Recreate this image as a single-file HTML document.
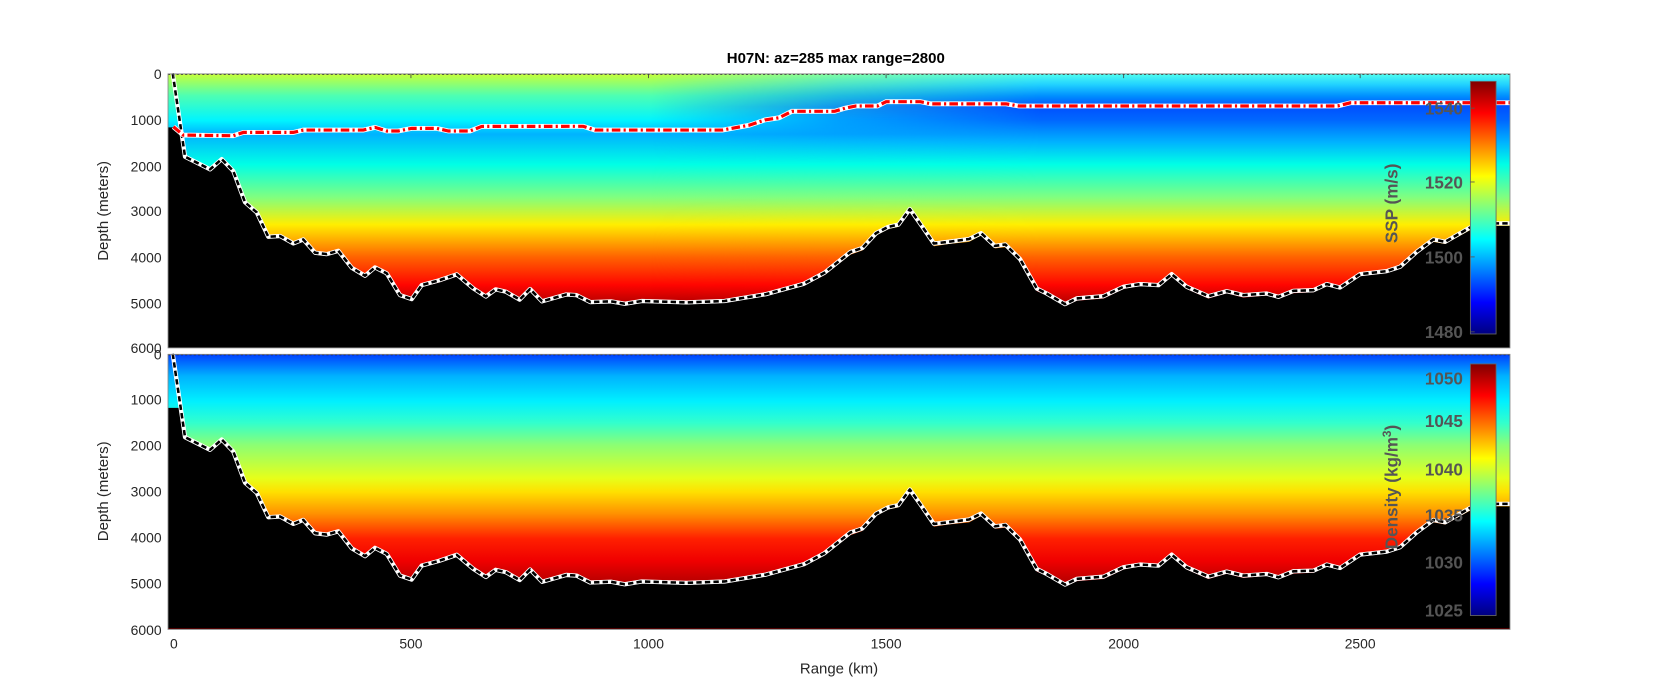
<!DOCTYPE html>
<html><head><meta charset="utf-8"><style>
html,body{margin:0;padding:0;background:#fff;}
svg{display:block;}
text{font-family:"Liberation Sans","DejaVu Sans",sans-serif;}
</style></head><body>
<svg width="1678" height="699" viewBox="0 0 1568 653" preserveAspectRatio="none" xmlns="http://www.w3.org/2000/svg">
<defs>
<linearGradient id="gw" x1="0" y1="0" x2="0" y2="1">
<stop offset="0" stop-color="#c7ff38"/>
<stop offset="0.08" stop-color="#4dffb3"/>
<stop offset="0.17" stop-color="#00f5ff"/>
<stop offset="0.22" stop-color="#00b3ff"/>
<stop offset="0.33" stop-color="#00ffe6"/>
<stop offset="0.45" stop-color="#80ff80"/>
<stop offset="0.55" stop-color="#ffee00"/>
<stop offset="0.67" stop-color="#ff6100"/>
<stop offset="0.77" stop-color="#ff0500"/>
<stop offset="0.84" stop-color="#b30000"/>
<stop offset="1" stop-color="#800000"/>
</linearGradient>
<linearGradient id="ge" x1="0" y1="0" x2="0" y2="1">
<stop offset="0" stop-color="#50fff0"/>
<stop offset="0.04" stop-color="#20d0ff"/>
<stop offset="0.08" stop-color="#0090ff"/>
<stop offset="0.12" stop-color="#0050ff"/>
<stop offset="0.17" stop-color="#0068ff"/>
<stop offset="0.25" stop-color="#00b3ff"/>
<stop offset="0.33" stop-color="#00ffe6"/>
<stop offset="0.45" stop-color="#80ff80"/>
<stop offset="0.55" stop-color="#ffee00"/>
<stop offset="0.67" stop-color="#ff6100"/>
<stop offset="0.77" stop-color="#ff0500"/>
<stop offset="0.84" stop-color="#b30000"/>
<stop offset="1" stop-color="#800000"/>
</linearGradient>
<linearGradient id="fade" x1="0" y1="0" x2="1" y2="0">
<stop offset="0" stop-color="#fff" stop-opacity="0"/>
<stop offset="0.36" stop-color="#fff" stop-opacity="0"/>
<stop offset="0.5" stop-color="#fff" stop-opacity="0.6"/>
<stop offset="0.65" stop-color="#fff" stop-opacity="1"/>
<stop offset="1" stop-color="#fff" stop-opacity="1"/>
</linearGradient>
<mask id="m1"><rect x="157" y="69" width="1254" height="256" fill="url(#fade)"/></mask>
<linearGradient id="gd" x1="0" y1="0" x2="0" y2="1">
<stop offset="0" stop-color="#0040ff"/>
<stop offset="0.08" stop-color="#00b3ff"/>
<stop offset="0.17" stop-color="#00f0ff"/>
<stop offset="0.25" stop-color="#33ffcc"/>
<stop offset="0.33" stop-color="#8cff73"/>
<stop offset="0.45" stop-color="#e6ff1a"/>
<stop offset="0.5" stop-color="#ffe000"/>
<stop offset="0.58" stop-color="#ff9000"/>
<stop offset="0.67" stop-color="#ff2000"/>
<stop offset="0.75" stop-color="#f00000"/>
<stop offset="0.84" stop-color="#b00000"/>
<stop offset="1" stop-color="#800000"/>
</linearGradient>
<linearGradient id="jet" x1="0" y1="1" x2="0" y2="0">
<stop offset="0" stop-color="#000080"/>
<stop offset="0.125" stop-color="#0000ff"/>
<stop offset="0.375" stop-color="#00ffff"/>
<stop offset="0.625" stop-color="#ffff00"/>
<stop offset="0.875" stop-color="#ff0000"/>
<stop offset="1" stop-color="#800000"/>
</linearGradient>
</defs>

<text x="781" y="59" font-size="14" font-weight="bold" text-anchor="middle" fill="#000">H07N: az=285  max range=2800</text>

<rect x="157" y="69" width="1254" height="256" fill="url(#gw)"/>
<rect x="157" y="69" width="1254" height="256" fill="url(#ge)" mask="url(#m1)"/>
<g id="bathy">
<polygon fill="#000" points="157,119 170,119 172.9,148 196.3,160 207.2,150 218,161 229,191 239.9,200 250.7,223 261.7,222 274.1,229 283.4,225 294.4,238 305.3,239 316.2,236 328.7,252 341.1,259 350.4,251 361.4,257 373.8,277 384.7,281 394.1,268 410,264 426.8,258 442.3,271 454,279 463.1,272 472.7,274 485.6,281 495.3,272 506.5,283 529.1,277 538.7,277 551.6,284 570.9,283 583.8,285 599.8,283 641.7,284 677.1,283 715.7,276 751.1,267 770.4,257 794.5,238 805.8,234 818.7,220 829.9,214 839.6,212 850.2,198 860.5,212 872.7,230 886.3,228 905.6,226 916.8,220 929.7,232 939.4,231 953.2,244 968.8,272 978.1,276 995.2,286 1006.1,281 1031.1,279 1049.8,270 1065.3,267 1082.5,268 1094.9,258 1108.9,270 1129.2,279 1146.3,274 1161.9,278 1183.7,276 1194.6,279 1208.6,274 1227.3,273 1239.8,267 1252.2,270 1270.9,258 1295.8,255 1308.3,251 1323.9,237 1339.4,226 1350.4,228 1373.7,215 1398.6,211 1411,211 1411,325 157,325"/>
<polyline fill="none" stroke="#fff" stroke-width="4" stroke-linejoin="round" points="161.4,68.5 172.9,146.4 196.3,158.2 207.2,148.6 218,159.8 229,189 239.9,198.4 250.7,221.2 261.7,220.5 274.1,227.4 283.4,223.7 294.4,236.1 305.3,237.4 316.2,234.3 328.7,250.2 341.1,257.6 350.4,249.8 361.4,255.4 373.8,275.7 384.7,279.4 394.1,266.3 410,262 426.8,256.3 442.3,269.4 454,277 463.1,270.3 472.7,272.5 485.6,279.9 495.3,270 506.5,281.5 529.1,275.1 538.7,275.7 551.6,282.2 570.9,281.5 583.8,283.8 599.8,281.2 641.7,282.5 677.1,281.2 715.7,274.8 751.1,265.1 770.4,254.8 794.5,235.5 805.8,231.7 818.7,217.8 829.9,212 839.6,209.8 850.2,195.3 860.5,209.8 872.7,227.5 886.3,225.9 905.6,223.3 916.8,217.8 929.7,229.7 939.4,228.4 953.2,242 968.8,269.5 978.1,274.2 995.2,284.1 1006.1,278.8 1031.1,276.7 1049.8,267.9 1065.3,265.4 1082.5,266.4 1094.9,256.1 1108.9,267.9 1129.2,276.7 1146.3,272 1161.9,275.7 1183.7,274.2 1194.6,277.3 1208.6,271.7 1227.3,271.1 1239.8,265.4 1252.2,268.6 1270.9,256.1 1295.8,253.3 1308.3,249.2 1323.9,235.2 1339.4,223.7 1350.4,225.9 1373.7,212.5 1398.6,208.7 1411,208.7"/>
<polyline fill="none" stroke="#000" stroke-width="2.4" stroke-dasharray="5 3" stroke-linejoin="round" points="161.4,68.5 172.9,146.4 196.3,158.2 207.2,148.6 218,159.8 229,189 239.9,198.4 250.7,221.2 261.7,220.5 274.1,227.4 283.4,223.7 294.4,236.1 305.3,237.4 316.2,234.3 328.7,250.2 341.1,257.6 350.4,249.8 361.4,255.4 373.8,275.7 384.7,279.4 394.1,266.3 410,262 426.8,256.3 442.3,269.4 454,277 463.1,270.3 472.7,272.5 485.6,279.9 495.3,270 506.5,281.5 529.1,275.1 538.7,275.7 551.6,282.2 570.9,281.5 583.8,283.8 599.8,281.2 641.7,282.5 677.1,281.2 715.7,274.8 751.1,265.1 770.4,254.8 794.5,235.5 805.8,231.7 818.7,217.8 829.9,212 839.6,209.8 850.2,195.3 860.5,209.8 872.7,227.5 886.3,225.9 905.6,223.3 916.8,217.8 929.7,229.7 939.4,228.4 953.2,242 968.8,269.5 978.1,274.2 995.2,284.1 1006.1,278.8 1031.1,276.7 1049.8,267.9 1065.3,265.4 1082.5,266.4 1094.9,256.1 1108.9,267.9 1129.2,276.7 1146.3,272 1161.9,275.7 1183.7,274.2 1194.6,277.3 1208.6,271.7 1227.3,271.1 1239.8,265.4 1252.2,268.6 1270.9,256.1 1295.8,253.3 1308.3,249.2 1323.9,235.2 1339.4,223.7 1350.4,225.9 1373.7,212.5 1398.6,208.7 1411,208.7"/>
</g>
<polyline fill="none" stroke="#fff" stroke-width="4.5" points="162,118.4 171.3,126.2 218,126.8 227.4,123.7 274.1,123.7 283.4,121.5 339.5,121.5 350.4,119 361.4,122.4 372.2,122.4 384.7,119.9 408.1,119.9 419,122.4 439.2,122.4 450.1,118.1 545,118 556,121.5 675,121.5 700,117 715,112 728,110 740,104 780,104 790,101 800,99 820,99 828,95 860,95 870,97 940,97 952,99 1250,99 1262,96 1411,96"/>
<polyline fill="none" stroke="#f00" stroke-width="3" stroke-dasharray="8 3 2 3" points="162,118.4 171.3,126.2 218,126.8 227.4,123.7 274.1,123.7 283.4,121.5 339.5,121.5 350.4,119 361.4,122.4 372.2,122.4 384.7,119.9 408.1,119.9 419,122.4 439.2,122.4 450.1,118.1 545,118 556,121.5 675,121.5 700,117 715,112 728,110 740,104 780,104 790,101 800,99 820,99 828,95 860,95 870,97 940,97 952,99 1250,99 1262,96 1411,96"/>
<line x1="157" y1="69.5" x2="1411" y2="69.5" stroke="#222" stroke-width="0.8" stroke-dasharray="2 2"/>
<rect x="157" y="69" width="1254" height="256" fill="none" stroke="#888" stroke-width="0.8"/>
<g stroke="#444" stroke-width="0.8">
<line x1="162.5" y1="69" x2="162.5" y2="73"/><line x1="384" y1="69" x2="384" y2="73"/><line x1="606" y1="69" x2="606" y2="73"/><line x1="828" y1="69" x2="828" y2="73"/><line x1="1050" y1="69" x2="1050" y2="73"/><line x1="1271" y1="69" x2="1271" y2="73"/>
</g>
<g font-size="13" fill="#262626" text-anchor="end">
<text x="151" y="74">0</text><text x="151" y="117">1000</text><text x="151" y="160">2000</text><text x="151" y="202">3000</text><text x="151" y="245">4000</text><text x="151" y="288">5000</text><text x="151" y="330">6000</text>
</g>
<text transform="translate(101,197) rotate(-90)" font-size="14" fill="#262626" text-anchor="middle">Depth (meters)</text>
<rect x="1374" y="76" width="24" height="236" fill="url(#jet)" stroke="#666" stroke-width="0.8"/>
<g stroke="#555" stroke-width="0.8"><line x1="1374" y1="101" x2="1378" y2="101"/><line x1="1374" y1="170" x2="1378" y2="170"/><line x1="1374" y1="240" x2="1378" y2="240"/><line x1="1374" y1="310" x2="1378" y2="310"/></g>
<g font-size="16" font-weight="bold" fill="#555" text-anchor="end">
<text x="1367" y="107">1540</text><text x="1367" y="176">1520</text><text x="1367" y="246">1500</text><text x="1367" y="316">1480</text>
</g>
<text transform="translate(1306,190) rotate(-90)" font-size="16" font-weight="bold" fill="#555" text-anchor="middle">SSP (m/s)</text>

<rect x="157" y="331" width="1254" height="257" fill="url(#gd)"/>
<use href="#bathy" transform="translate(0,262)"/>
<line x1="157" y1="331.5" x2="1411" y2="331.5" stroke="#222" stroke-width="0.8" stroke-dasharray="2 2"/>
<rect x="157" y="331" width="1254" height="257" fill="none" stroke="#888" stroke-width="0.8"/>
<g font-size="13" fill="#262626" text-anchor="end">
<text x="151" y="336">0</text><text x="151" y="378">1000</text><text x="151" y="421">2000</text><text x="151" y="464">3000</text><text x="151" y="507">4000</text><text x="151" y="550">5000</text><text x="151" y="593">6000</text>
</g>
<text transform="translate(101,459) rotate(-90)" font-size="14" fill="#262626" text-anchor="middle">Depth (meters)</text>
<g font-size="13" fill="#262626" text-anchor="middle">
<text x="162.5" y="606">0</text><text x="384" y="606">500</text><text x="606" y="606">1000</text><text x="828" y="606">1500</text><text x="1050" y="606">2000</text><text x="1271" y="606">2500</text>
</g>
<text x="784" y="629" font-size="14" fill="#262626" text-anchor="middle">Range (km)</text>
<rect x="1374" y="340" width="24" height="235" fill="url(#jet)" stroke="#666" stroke-width="0.8"/>
<g font-size="16" font-weight="bold" fill="#555" text-anchor="end">
<text x="1367" y="359">1050</text><text x="1367" y="399">1045</text><text x="1367" y="444">1040</text><text x="1367" y="487">1035</text><text x="1367" y="531">1030</text><text x="1367" y="576">1025</text>
</g>
<text transform="translate(1306,455) rotate(-90)" font-size="16" font-weight="bold" fill="#555" text-anchor="middle">Density (kg/m<tspan font-size="11" dy="-6">3</tspan><tspan dy="6">)</tspan></text>
</svg>
</body></html>
